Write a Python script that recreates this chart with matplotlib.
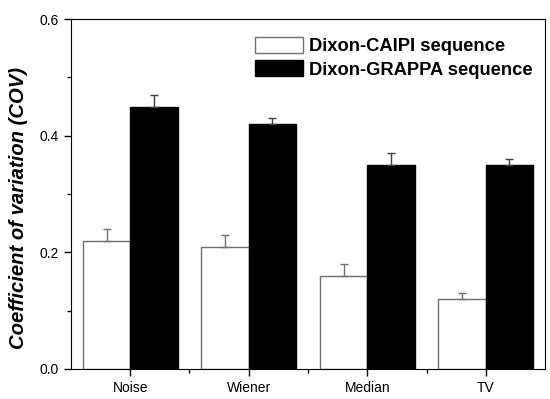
import numpy as np
import matplotlib
matplotlib.use("Agg")
import matplotlib.pyplot as plt
from matplotlib.patches import Patch

# ── Data ─────────────────────────────────────────────────────────────────────
categories = ["Noise", "Wiener", "Median", "TV"]
caipi      = [0.22, 0.21, 0.16, 0.12]
caipi_err  = [0.02, 0.02, 0.02, 0.01]
grappa     = [0.45, 0.42, 0.35, 0.35]
grappa_err = [0.02, 0.01, 0.02, 0.01]

plt.rcParams["font.family"] = ["Liberation Sans", "DejaVu Sans"]

fig = plt.figure(figsize=(5.5, 3.99), dpi=100)
ax = fig.add_axes([0.129, 0.0752, 0.862, 0.877])

x = np.arange(1, len(categories) + 1)
w = 0.4

ax.bar(x - w / 2, caipi, w, color="white", edgecolor="#707070", linewidth=1.0,
       yerr=[np.zeros(len(caipi)), caipi_err], ecolor="#707070",
       error_kw=dict(capsize=3, elinewidth=1.0, capthick=1.0), zorder=2)
ax.bar(x + w / 2, grappa, w, color="black", edgecolor="black", linewidth=1.0,
       yerr=[np.zeros(len(grappa)), grappa_err], ecolor="#404040",
       error_kw=dict(capsize=3, elinewidth=1.0, capthick=1.0), zorder=2)

ax.set_xlim(0.5, 4.5)
ax.set_ylim(0, 0.6)
ax.set_xticks(x)
ax.set_xticklabels(categories, fontsize=10)
ax.set_xticks([1.5, 2.5, 3.5], minor=True)
ax.set_yticks([0.0, 0.2, 0.4, 0.6])
ax.set_yticklabels(["0.0", "0.2", "0.4", "0.6"], fontsize=10)
ax.set_yticks([0.1, 0.3, 0.5], minor=True)
ax.tick_params(which="major", direction="out", length=5, width=1)
ax.tick_params(which="minor", direction="out", length=3, width=1)

ax.set_ylabel("Coefficient of variation (COV)", fontsize=14.6, fontweight="bold",
              fontstyle="italic")
ax.yaxis.set_label_coords(-0.09, 0.46)

handles = [Patch(facecolor="white", edgecolor="#707070", label="Dixon-CAIPI sequence"),
           Patch(facecolor="black", edgecolor="black", label="Dixon-GRAPPA sequence")]
ax.legend(handles=handles, loc="upper right", bbox_to_anchor=(1.009, 0.996),
          frameon=False, prop=dict(size=13.2, weight="bold"),
          handlelength=2.6, handleheight=1.0, handletextpad=0.35, labelspacing=0.25)

fig.savefig("out.png", dpi=100)
